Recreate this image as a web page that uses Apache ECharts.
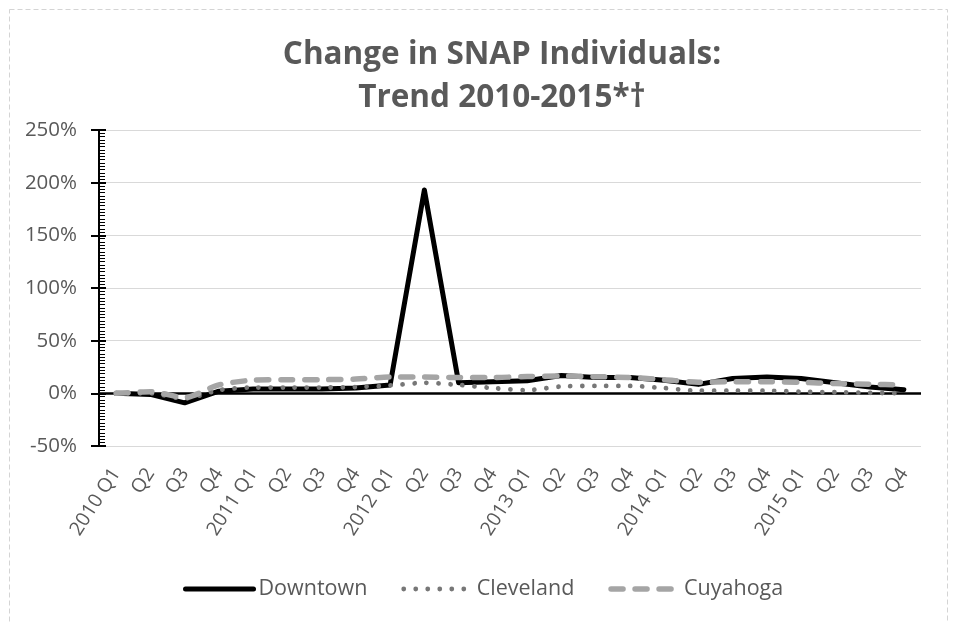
<!DOCTYPE html>
<html>
<head>
<meta charset="utf-8">
<script src="https://cdn.jsdelivr.net/npm/echarts@6/dist/echarts.min.js"></script>
<style>
html,body{margin:0;padding:0;background:#fff;}
#chart{width:953px;height:623px;}
</style>
</head>
<body>
<div id="chart"></div>
<script>
const categories = ['2010 Q1','2010 Q2','2010 Q3','2010 Q4','2011 Q1','2011 Q2','2011 Q3','2011 Q4','2012 Q1','2012 Q2','2012 Q3','2012 Q4','2013 Q1','2013 Q2','2013 Q3','2013 Q4','2014 Q1','2014 Q2','2014 Q3','2014 Q4','2015 Q1','2015 Q2','2015 Q3','2015 Q4'];
const tickLabels = ['2010 Q1','Q2','Q3','Q4','2011 Q1','Q2','Q3','Q4','2012 Q1','Q2','Q3','Q4','2013 Q1','Q2','Q3','Q4','2014 Q1','Q2','Q3','Q4','2015 Q1','Q2','Q3','Q4'];
const downtown = [0, -1, -9, 2, 4, 4, 4, 5, 8, 193, 10, 11, 12, 17, 15, 15, 12.5, 8.5, 14, 15.5, 14, 10, 6, 3.5];
const cleveland = [0, 0, -5, 3, 5.5, 5.5, 5.5, 6, 7.5, 10, 8, 5, 3, 6.5, 7, 7, 5, 2.5, 2.5, 2.5, 1.5, 1, 0.5, 0];
const cuyahoga = [0, 1.5, -4, 8, 12.5, 13, 13, 13.5, 15.5, 15.5, 15, 15, 16, 16.4, 15.8, 15, 13, 10.5, 11, 11, 10.5, 9.3, 8.6, 8];
const yTicks = {min: -50, max: 250, interval: 50};

const FONT = "'Open Sans', 'Noto Sans', sans-serif";
const TXT = '#595959';
const styles = {
  Downtown: {color: '#000', width: 5, type: 'solid'},
  Cleveland: {color: '#777777', width: 4.8, type: [0.01, 12]},
  Cuyahoga: {color: '#a5a5a5', width: 5.5, type: [12, 12]}
};
const chart = echarts.init(document.getElementById('chart'), null, {renderer: 'canvas'});
chart.setOption({
  animation: false,
  backgroundColor: '#fff',
  graphic: [{
    type: 'rect', silent: true, z: -10,
    shape: {x: 9.5, y: 9.5, width: 938, height: 660},
    style: {fill: 'none', stroke: '#d4d4d4', lineWidth: 1, lineDash: [5, 3]}
  }],
  title: {
    text: 'Change in SNAP Individuals:\nTrend 2010-2015*\u2020',
    left: 497, top: 29, textAlign: 'center',
    textStyle: {fontFamily: FONT, fontWeight: 'bold', fontSize: 31.5, lineHeight: 43, color: TXT}
  },
  grid: {left: 99, right: 32, top: 130, bottom: 177, containLabel: false},
  legend: {
    bottom: 18, left: 178, itemWidth: 68, itemHeight: 14, itemGap: 34,
    textStyle: {fontFamily: FONT, fontSize: 21.5, color: TXT},
    data: ['Downtown', 'Cleveland', 'Cuyahoga'].map(n => ({
      name: n,
      itemStyle: {opacity: 0},
      lineStyle: {color: styles[n].color, width: styles[n].width, type: styles[n].type, cap: 'round'}
    }))
  },
  xAxis: {
    type: 'category', data: categories, boundaryGap: true,
    axisLine: {show: false}, axisTick: {show: false}, splitLine: {show: false},
    axisLabel: {
      interval: 0, rotate: 57, margin: 24, fontFamily: FONT, fontSize: 19.5, color: TXT,
      formatter: (v, i) => tickLabels[i]
    }
  },
  yAxis: [{
    type: 'value', min: yTicks.min, max: yTicks.max, interval: yTicks.interval,
    axisLine: {show: true, lineStyle: {color: '#000', width: 2}},
    axisTick: {show: true, inside: false, length: 8, lineStyle: {color: '#000', width: 2}},
    axisLabel: {fontFamily: FONT, fontSize: 20.5, color: TXT, margin: 22, formatter: '{value}%'},
    splitLine: {show: true, lineStyle: {color: '#d9d9d9', width: 1}}
  }, {
    type: 'value', position: 'left', min: yTicks.min, max: yTicks.max, interval: yTicks.interval,
    axisLine: {show: false},
    axisTick: {show: true, inside: true, length: 7, lineStyle: {color: '#000', width: 2}},
    minorTick: {show: true, splitNumber: 16, length: 6, lineStyle: {color: '#000', width: 1}},
    axisLabel: {show: false}, splitLine: {show: false}
  }],
  series: [{
    name: 'Downtown', type: 'line', data: downtown, yAxisIndex: 0,
    smooth: false, symbol: 'none', z: 3,
    lineStyle: {color: styles.Downtown.color, width: styles.Downtown.width, cap: 'round', join: 'round'},
    itemStyle: {color: '#000'},
    markLine: {
      silent: true, symbol: 'none', label: {show: false}, z: 1,
      lineStyle: {color: '#000', width: 2.5, type: 'solid'},
      data: [{yAxis: 0}]
    }
  }, {
    name: 'Cleveland', type: 'line', data: cleveland, yAxisIndex: 0,
    smooth: 0.25, symbol: 'none', z: 4,
    lineStyle: {color: styles.Cleveland.color, width: styles.Cleveland.width, type: styles.Cleveland.type, cap: 'round', join: 'round'},
    itemStyle: {color: '#777777'}
  }, {
    name: 'Cuyahoga', type: 'line', data: cuyahoga, yAxisIndex: 0,
    smooth: 0.25, symbol: 'none', z: 5,
    lineStyle: {color: styles.Cuyahoga.color, width: styles.Cuyahoga.width, type: styles.Cuyahoga.type, cap: 'round', join: 'round'},
    itemStyle: {color: '#a5a5a5'}
  }]
});
</script>
</body>
</html>
